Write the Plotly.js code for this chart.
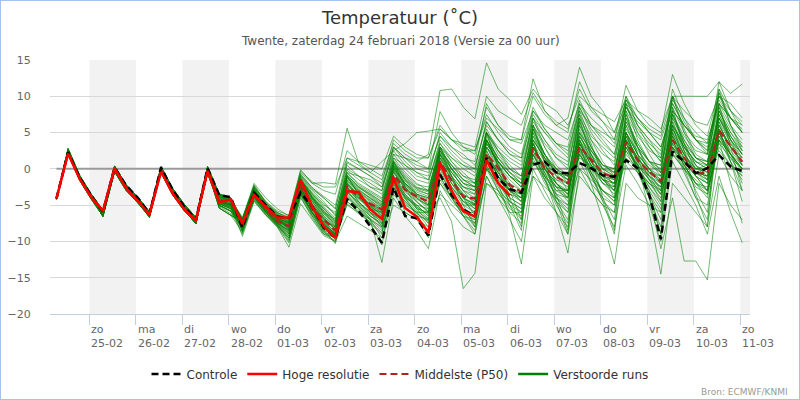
<!DOCTYPE html>
<html><head><meta charset="utf-8">
<script src="https://cdn.plot.ly/plotly-3.0.1.min.js"></script>
<style>
html,body{margin:0;padding:0;background:#fff;}
#wrap{position:relative;width:800px;height:400px;}
#chart{width:800px;height:400px;}
#frame{position:absolute;left:0;top:0;width:798px;height:398px;border:1px solid #a4c2ee;pointer-events:none;}
</style></head><body>
<div id="wrap"><div id="chart"></div><div id="frame"></div></div>
<script>
const times = [
'2018-02-24 07:00','2018-02-24 13:00','2018-02-24 19:00',
'2018-02-25 01:00','2018-02-25 07:00','2018-02-25 13:00','2018-02-25 19:00',
'2018-02-26 01:00','2018-02-26 07:00','2018-02-26 13:00','2018-02-26 19:00',
'2018-02-27 01:00','2018-02-27 07:00','2018-02-27 13:00','2018-02-27 19:00',
'2018-02-28 01:00','2018-02-28 07:00','2018-02-28 13:00','2018-02-28 19:00',
'2018-03-01 01:00','2018-03-01 07:00','2018-03-01 13:00','2018-03-01 19:00',
'2018-03-02 01:00','2018-03-02 07:00','2018-03-02 13:00','2018-03-02 19:00',
'2018-03-03 01:00','2018-03-03 07:00','2018-03-03 13:00','2018-03-03 19:00',
'2018-03-04 01:00','2018-03-04 07:00','2018-03-04 13:00','2018-03-04 19:00',
'2018-03-05 01:00','2018-03-05 07:00','2018-03-05 13:00','2018-03-05 19:00',
'2018-03-06 01:00','2018-03-06 07:00','2018-03-06 13:00','2018-03-06 19:00',
'2018-03-07 01:00','2018-03-07 07:00','2018-03-07 13:00','2018-03-07 19:00',
'2018-03-08 01:00','2018-03-08 07:00','2018-03-08 13:00','2018-03-08 19:00',
'2018-03-09 01:00','2018-03-09 07:00','2018-03-09 13:00','2018-03-09 19:00',
'2018-03-10 01:00','2018-03-10 07:00','2018-03-10 13:00','2018-03-10 19:00',
'2018-03-11 01:00'];

const dayTicks = ['2018-02-25','2018-02-26','2018-02-27','2018-02-28','2018-03-01','2018-03-02','2018-03-03','2018-03-04','2018-03-05','2018-03-06','2018-03-07','2018-03-08','2018-03-09','2018-03-10','2018-03-11'];
const dayNames = ['zo','ma','di','wo','do','vr','za','zo','ma','di','wo','do','vr','za','zo'];
const dayDates = ['25-02','26-02','27-02','28-02','01-03','02-03','03-03','04-03','05-03','06-03','07-03','08-03','09-03','10-03','11-03'];
const shadedDays = ['2018-02-25','2018-02-27','2018-03-01','2018-03-03','2018-03-05','2018-03-07','2018-03-09','2018-03-11'];
const yTicks = [-20,-15,-10,-5,0,5,10,15];
const xRange = ['2018-02-24 03:40','2018-03-11 05:00'];

const controle = [-4.1,2.3,-1.2,-3.7, -5.9,0.2,-2.3,-4.0, -6.2,0.2,-2.9,-5.2, -7.0,0.1,-3.6,-3.9, -8.1,-3.3,-5.0,-6.6, -6.7,-3.3,-5.2,-8.1, -9.5,-4.2,-5.8,-7.9, -10.2,-2.6,-6.5,-6.8, -9.2,-0.8,-3.6,-5.6, -6.5,1.5,-1.3,-2.8, -3.3,0.6,1.0,-0.5, -0.6,0.8,0.1,-0.9, -1.1,1.2,0.1,-3.6, -9.7,2.4,1.0,-0.6, 0.1,1.9,0.3,-0.3];

const hogeResolutie = [-4.1,2.1,-1.4,-3.9, -5.8,0.1,-2.7,-4.4, -6.3,-0.4,-3.4,-5.6, -7.1,-0.3,-4.6,-4.2, -7.6,-3.6,-5.2,-6.7, -6.7,-1.5,-5.2,-7.9, -9.5,-3.1,-3.2,-5.6, -6.9,-1.3,-5.4,-6.6, -8.8,0.8,-3.0,-5.8, -6.6,1.2,-2.0,-3.7];

const middelste = [-4.1,2.2,-1.3,-3.8, -5.9,0.0,-2.6,-4.3, -6.2,-0.1,-3.2,-5.4, -7.0,-0.3,-4.3,-4.6, -7.3,-3.3,-5.5,-7.2, -7.9,-2.4,-5.5,-7.0, -8.5,-2.4,-3.8,-4.8, -5.6,-0.8,-2.9,-3.8, -4.5,1.0,-1.6,-3.8, -4.1,2.1,0.1,-2.2, -3.2,2.8,0.1,-1.1, -2.0,3.1,1.2,-0.6, -1.2,3.7,1.2,-0.4, -1.7,4.0,1.5,-0.6, -0.6,5.3,3.1,1.0];

const verstoordeRuns = [
[-4.1,2.4,-1.2,-3.8,-6.1,0.1,-2.5,-4.2,-6.2,0.0,-3.0,-5.3,-7.0,0.0,-4.0,-4.6, -8.0,-3.0,-5.0,-6.5, -7.0,-3.0,-5.5,-8.0, -9.8,-4.0,-5.5,-7.5, -10.5,-2.0,-6.0,-7.0, -9.5,-1.0,-4.0,-6.0, -7.0,1.0,-1.5,-3.0, -3.5,0.5,1.0,-0.5, -1.0,1.5,0.5,-1.0, -1.5,1.5,0.0,-3.0, -9.0,2.0,1.0,-0.5, 0.0,2.5,0.5,-0.5],
[-4.0,2.2,-1.5,-4.0,-6.3,-0.2,-2.8,-4.5,-6.4,-0.3,-3.4,-5.6,-7.3,-0.4,-4.6,-5.2, -7.2,-3.5,-5.6,-7.3, -8.0,-2.0,-4.5,-6.5, -8.0,-1.5,-3.0,-4.0, -5.0,0.5,-2.0,-3.5, -4.0,2.0,-0.5,-2.5, -3.5,3.5,1.0,-1.0, -2.5,4.0,1.5,0.0, -1.5,5.0,2.5,0.5, -0.5,6.0,3.0,1.0, -1.0,6.5,3.0,0.0, 0.5,7.0,4.0,2.0],
[-4.1,2.6,-1.0,-3.6,-5.8,0.3,-2.3,-4.0,-6.0,0.2,-2.8,-5.0,-6.8,0.2,-3.6,-4.2, -6.8,-2.0,-4.0,-5.5, -6.5,-0.1,-2.0,-1.9, -2.1,5.6,0.8,-0.5, 1.0,2.5,3.5,5.0, 5.2,5.5,4.0,3.5, 3.0,10.0,8.0,7.0, 6.0,10.5,8.0,6.5, 5.5,11.0,8.0,6.5, 5.0,9.0,7.0,5.5, 4.5,10.0,8.0,6.5, 6.0,10.0,9.0,7.0],
[-4.2,2.0,-1.6,-4.2,-6.5,-0.4,-3.0,-4.7,-6.6,-0.5,-3.6,-5.8,-7.5,-0.6,-5.0,-5.8, -7.5,-3.0,-5.0,-6.5, -8.5,-1.5,-3.5,-5.0, -6.0,-0.5,-1.0,-1.5, -2.5,2.0,1.5,1.0, 2.0,10.8,11.0,8.5, 6.9,14.6,11.0,9.5, 7.5,11.0,9.0,8.0, 6.0,10.0,8.5,7.5, 6.5,9.5,8.0,7.0, 5.5,10.0,10.0,10.0, 10.0,12.0,10.4,11.7],
[-4.1,2.3,-1.3,-3.9,-6.0,0.0,-2.6,-4.3,-6.3,-0.1,-3.2,-5.4,-7.1,-0.2,-4.3,-4.9, -8.5,-4.0,-6.0,-7.5, -9.0,-3.5,-6.0,-8.0, -9.0,-3.0,-5.0,-7.0, -8.5,-2.5,-4.5,-6.0, -6.0,-4.0,-7.3,-16.5, -14.4,-2.0,-3.0,-4.5, -6.0,3.0,0.0,-2.5, -4.0,4.5,2.0,-1.0, -3.0,5.0,2.0,0.0, -2.0,5.5,2.5,0.5, -1.0,6.0,3.0,1.5],
[-4.0,2.5,-1.1,-3.7,-5.9,0.2,-2.4,-4.1,-6.1,0.1,-2.9,-5.1,-6.9,0.1,-3.8,-4.4, -7.8,-3.2,-5.2,-6.8, -8.2,-2.8,-5.0,-7.2, -8.8,-2.0,-3.5,-5.0, -6.5,0.0,-2.5,-4.5, -6.0,2.5,-1.0,-4.0, -6.5,4.0,0.5,-3.0, -7.0,5.0,1.0,-3.5, -8.5,3.0,-1.0,-4.5, -9.0,4.0,0.0,-4.0, -11.0,-4.0,-12.7,-12.7, -15.3,-2.0,-5.0,-7.0],
[-4.1,2.1,-1.4,-4.1,-6.4,-0.3,-2.9,-4.6,-6.5,-0.4,-3.5,-5.7,-7.4,-0.5,-4.8,-5.5, -8.2,-3.8,-5.8,-7.6, -9.5,-3.0,-6.0,-8.5, -9.0,-2.5,-4.5,-6.5, -7.5,-1.0,-3.5,-5.5, -7.0,1.0,-3.0,-6.0, -8.0,2.0,-2.0,-6.5, -13.1,-1.0,-4.0,-6.0, -8.0,1.0,-2.0,-4.0, -5.0,2.0,0.0,-2.0, -4.0,3.0,1.0,-1.0, -3.0,4.0,2.0,0.0],
[-4.2,2.8,-0.9,-3.5,-5.7,0.4,-2.2,-3.9,-5.9,0.3,-2.7,-4.9,-6.7,0.3,-3.5,-4.0, -7.0,-2.8,-5.3,-6.9, -7.5,-1.5,-4.0,-6.0, -7.0,-1.0,-3.5,-5.0, -5.5,1.0,-1.5,-3.5, -5.0,3.0,0.0,-3.0, -5.0,5.0,1.0,-4.0, -8.0,4.0,-1.0,-6.0, -11.6,0.0,-3.0,-5.0, -6.0,3.0,0.0,-2.0, -3.0,6.0,3.0,1.0, 0.0,8.0,5.0,3.0],
[-4.1,2.2,-1.4,-4.0,-6.2,-0.1,-2.7,-4.4,-6.3,-0.2,-3.3,-5.5,-7.2,-0.3,-4.5,-5.0, -7.6,-3.6,-5.7,-7.2, -8.4,-2.6,-5.2,-7.4, -9.2,-3.0,-4.6,-6.0, -7.0,-1.5,-4.0,-5.0, -5.5,0.5,-2.5,-4.5, -5.0,2.5,-1.0,-3.0, -4.0,3.5,-0.5,-4.0, -6.0,2.5,-2.0,-7.0, -13.1,-2.0,-4.0,-5.0, -6.0,2.0,0.0,-2.0, -3.0,4.0,2.0,0.5],
[-4.0,2.4,-1.2,-3.8,-6.6,-0.2,-2.7,-4.5,-6.7,-0.1,-3.1,-5.6,-7.6,-0.2,-5.4,-6.4, -7.4,-3.4,-5.4,-7.0, -7.8,-2.2,-5.0,-7.0, -8.0,-2.0,-3.8,-5.0, -6.0,0.0,-2.0,-3.5, -4.0,3.0,0.0,-2.0, -2.5,5.0,2.0,0.0, -1.0,6.0,3.0,0.5, -1.0,7.0,3.5,-1.0, -4.0,5.0,1.0,-6.0, -14.5,-2.0,-4.0,-6.0, -8.0,2.0,-1.0,-3.0],
[-4.1,2.5,-1.1,-3.7,-6.0,0.2,-2.4,-4.1,-6.1,0.1,-2.9,-5.2,-6.9,0.1,-3.9,-4.5, -7.0,-2.5,-4.8,-6.2, -7.0,-1.0,-3.0,-4.5, -6.5,0.5,-1.0,-2.5, -3.0,3.0,1.0,-0.5, -1.0,5.0,3.0,1.5, 1.0,9.0,6.0,4.0, 4.0,12.4,8.0,6.0, 7.0,14.0,10.0,8.0, 5.0,10.0,7.0,5.0, 4.0,9.0,6.0,4.0, 3.0,9.5,7.0,5.0],
[-4.0,2.3,-1.4,-3.9,-6.2,-0.1,-2.7,-4.4,-6.3,-0.2,-3.3,-5.5,-7.2,-0.3,-4.5,-5.1, -7.3,-3.0,-5.0,-6.6, -7.6,-1.8,-4.0,-5.5, -7.0,-0.5,-2.0,-3.0, -4.0,2.0,0.0,-1.5, -2.0,4.0,2.0,0.5, 0.0,6.5,4.0,2.0, 1.5,8.0,5.5,3.5, 2.0,9.0,6.0,5.0, 4.0,11.5,8.0,6.0, 5.0,13.0,9.0,6.0, 4.5,11.0,8.0,6.5],
[-4.1,2.7,-1.0,-3.6,-5.8,0.3,-2.3,-4.0,-6.0,0.2,-2.8,-5.0,-6.8,0.2,-3.7,-4.3, -6.9,-2.2,-4.5,-6.0, -6.8,-0.5,-2.0,-3.0, -3.5,2.5,1.0,0.0, -1.0,3.5,2.0,1.0, 0.0,7.9,5.0,3.0, 2.0,8.5,6.0,4.5, 4.0,10.0,7.5,6.0, 5.0,12.0,8.5,6.5, 4.0,9.5,7.0,5.0, 3.0,8.0,6.0,4.0, 3.5,9.0,7.0,5.5],
[-4.2,2.1,-1.6,-4.2,-6.5,-0.4,-3.0,-4.7,-6.6,-0.5,-3.6,-5.8,-7.5,-0.6,-5.1,-5.9, -8.4,-3.9,-5.9,-7.7, -9.8,-3.2,-6.2,-8.4, -10.3,-3.5,-5.5,-7.0, -12.9,-4.0,-6.5,-8.5, -11.0,-3.0,-6.0,-8.0, -9.0,-1.0,-4.0,-6.0, -6.0,2.0,-1.0,-3.0, -3.0,4.0,1.0,-1.0, -2.0,5.0,2.0,0.0, -1.0,6.0,3.0,1.0, 0.0,7.0,4.0,2.0],
[-4.1,2.3,-1.3,-3.9,-6.1,0.0,-2.6,-4.3,-6.3,-0.1,-3.2,-5.4,-7.1,-0.1,-4.2,-4.8, -7.1,-2.6,-5.2,-6.9, -7.3,-1.2,-4.2,-6.2, -7.5,-0.8,-2.5,-3.5, -4.5,1.5,-0.5,-2.0, -3.0,3.5,1.0,-1.0, -2.0,5.5,2.5,0.0, -1.0,7.0,3.0,0.0, -2.0,8.0,4.0,1.0, -1.0,9.0,5.0,2.0, -0.5,10.0,5.5,2.0, 1.0,10.5,6.0,3.0],
[-4.0,2.5,-1.1,-3.7,-5.9,0.2,-2.4,-4.1,-6.1,0.1,-2.9,-5.1,-6.9,0.1,-3.9,-4.5, -7.7,-3.7,-5.6,-7.4, -8.6,-2.6,-5.6,-7.6, -9.0,-2.8,-4.2,-5.5, -6.8,-1.2,-3.6,-5.0, -6.5,-0.5,-3.5,-5.5, -7.5,0.5,-2.5,-5.0, -7.0,1.5,-2.0,-4.5, -6.0,2.0,-1.0,-3.0, -4.0,3.0,0.0,-2.5, -5.0,3.5,0.5,-2.0, -4.0,4.5,1.5,-1.0],
[-4.1,2.1,-1.4,-4.1,-6.4,-0.3,-2.9,-4.6,-6.5,-0.4,-3.5,-5.7,-7.4,-0.5,-4.7,-5.4, -7.9,-3.3,-5.2,-6.7, -7.2,-1.6,-3.8,-5.8, -7.8,-1.2,-2.8,-4.0, -5.2,0.8,-1.5,-2.8, -3.5,2.5,0.0,-2.0, -3.0,4.0,1.5,-0.5, -2.0,5.5,2.0,-0.5, -3.0,6.0,2.5,0.0, -2.5,7.0,3.0,-0.5, -3.0,7.5,3.5,0.5, -1.5,8.0,4.5,2.0],
[-4.2,2.8,-0.9,-3.5,-5.7,0.4,-2.2,-3.9,-5.9,0.3,-2.7,-4.9,-6.7,0.3,-3.4,-4.1, -8.8,-4.2,-6.2,-7.9, -10.0,-4.0,-6.5,-8.8, -9.5,-5.0,-6.0,-7.0, -8.0,-3.0,-5.0,-6.0, -7.5,-2.0,-4.5,-6.0, -6.0,0.0,-2.0,-4.0, -5.0,1.0,-1.5,-3.5, -4.0,2.0,-0.5,-3.0, -4.5,2.5,-0.5,-3.0, -5.5,3.0,0.0,-2.5, -3.5,4.0,1.0,-1.5],
[-4.1,2.2,-1.4,-4.0,-6.2,-0.1,-2.7,-4.4,-6.3,-0.2,-3.3,-5.5,-7.2,-0.3,-4.4,-4.9, -7.3,-2.9,-4.9,-6.4, -6.9,-0.9,-2.8,-4.0, -5.5,1.0,0.0,-1.0, -2.0,4.0,2.5,1.5, 1.5,6.0,4.0,2.5, 2.5,7.5,5.0,3.0, 2.0,8.5,5.5,3.5, 3.0,9.5,6.0,4.0, 2.0,8.0,5.0,3.0, 1.0,7.5,4.5,2.5, 2.0,8.5,5.5,3.5],
[-4.0,2.4,-1.2,-3.8,-6.5,-0.2,-2.7,-4.5,-6.6,-0.1,-3.1,-5.5,-7.5,-0.2,-5.2,-6.2, -7.5,-3.1,-5.4,-7.0, -8.3,-2.3,-5.2,-7.3, -8.6,-2.2,-3.9,-5.2, -6.2,-0.3,-2.8,-4.2, -5.0,1.5,-1.0,-3.0, -3.5,3.0,0.5,-1.5, -3.0,3.0,0.5,-1.5, -2.5,3.5,1.0,-0.5, -1.0,4.0,1.5,-0.5, -1.5,4.5,2.0,0.0, -0.5,5.5,3.0,1.0],
[-4.1,2.4,-1.3,-3.9,-6.1,0.0,-2.6,-4.3,-6.2,0.0,-3.1,-5.3,-7.0,-0.1,-4.1,-4.7, -7.0,-2.7,-5.5,-7.5, -8.8,-3.6,-6.5,-9.0, -9.5,-4.5,-6.0,-7.5, -9.0,-1.0,-4.0,-6.5, -8.5,0.0,-3.5,-6.5, -9.0,-1.0,-4.0,-7.0, -10.0,0.0,-3.0,-6.0, -9.0,-1.0,-3.0,-5.0, -8.0,0.5,-2.0,-5.0, -10.0,1.0,-2.0,-5.0, -9.0,-1.0,-6.0,-10.2],
[-4.0,2.2,-1.5,-4.0,-6.3,-0.2,-2.8,-4.5,-6.4,-0.3,-3.4,-5.6,-7.3,-0.4,-4.6,-5.3, -8.1,-4.1,-6.0,-7.8, -9.2,-3.4,-6.3,-8.6, -9.6,-3.8,-5.2,-6.5, -7.8,-2.0,-4.0,-5.5, -6.0,1.0,-2.0,-4.0, -5.5,2.0,-1.0,-3.5, -4.5,3.0,0.0,-2.0, -3.5,3.5,0.5,-1.5, -2.0,4.5,1.5,-1.0, -2.5,5.0,2.0,-0.5, -1.0,6.0,3.0,0.5],
[-4.1,2.6,-1.0,-3.6,-5.8,0.3,-2.3,-4.0,-6.0,0.2,-2.8,-5.0,-6.8,0.2,-3.6,-4.2, -6.7,-2.4,-4.6,-6.3, -7.4,-1.4,-3.4,-5.2, -6.8,-0.2,-1.5,-2.5, -3.5,1.5,0.5,-0.5, -1.5,3.0,1.5,0.5, -0.5,5.0,3.0,1.5, 0.5,6.5,4.0,2.0, 1.0,7.5,4.5,3.0, 1.5,8.5,5.5,3.5, 2.0,9.0,6.0,4.0, 2.5,10.0,7.0,5.0],
[-4.2,2.0,-1.6,-4.2,-6.5,-0.4,-3.0,-4.7,-6.6,-0.5,-3.6,-5.8,-7.5,-0.6,-5.0,-5.8, -7.9,-3.4,-5.3,-7.1, -8.1,-2.1,-4.9,-6.9, -8.3,-1.8,-3.3,-4.6, -5.8,0.3,-2.3,-3.8, -4.8,1.8,-1.2,-3.5, -4.5,2.5,-0.5,-3.0, -4.0,3.5,0.0,-2.5, -3.0,4.0,0.5,-2.0, -2.5,4.5,1.0,-1.5, -3.0,4.0,0.5,-2.0, -2.5,5.0,2.0,-0.5],
[-4.1,2.3,-1.3,-3.9,-6.0,0.0,-2.6,-4.3,-6.3,-0.1,-3.2,-5.4,-7.1,-0.2,-4.4,-5.0, -9.3,-4.5,-6.4,-8.0, -10.8,-4.8,-7.0,-9.2, -10.0,-6.5,-7.5,-8.5, -9.5,-5.0,-6.0,-7.0, -8.0,-3.5,-5.0,-6.5, -7.0,-2.0,-3.5,-5.0, -6.0,-1.0,-2.5,-4.0, -5.0,0.0,-1.5,-3.0, -4.0,1.0,-0.5,-2.0, -3.5,2.0,0.0,-1.5, -3.0,3.0,0.5,-1.0],
[-4.0,2.5,-1.1,-3.7,-5.9,0.2,-2.4,-4.1,-6.1,0.1,-2.9,-5.1,-6.9,0.1,-3.8,-4.4, -7.2,-2.3,-4.7,-6.1, -6.6,-0.7,-2.6,-3.8, -5.0,1.5,0.5,-0.5, -1.5,3.0,1.5,0.5, 0.0,4.5,3.0,2.0, 0.5,6.0,4.0,2.5, 1.5,7.0,5.0,3.5, 2.5,8.0,6.0,4.5, 3.0,8.5,6.0,4.0, 2.5,9.5,7.0,5.0, 3.5,10.0,8.0,6.0],
[-4.1,2.1,-1.4,-4.1,-6.4,-0.3,-2.9,-4.6,-6.5,-0.4,-3.5,-5.7,-7.4,-0.5,-4.8,-5.5, -7.6,-3.2,-5.1,-6.8, -7.9,-1.9,-4.4,-6.6, -8.5,-2.6,-4.0,-5.5, -6.0,-0.5,-2.5,-4.0, -5.5,0.5,-2.0,-4.5, -6.0,2.0,-1.0,-4.0, -5.0,3.5,0.0,-3.0, -4.0,5.0,1.0,-2.0, -3.5,6.0,2.0,-1.5, -4.5,6.5,2.5,-1.0, -3.0,7.0,3.5,0.5],
[-4.2,2.7,-0.9,-3.5,-5.7,0.4,-2.2,-3.9,-5.9,0.3,-2.7,-4.9,-6.7,0.3,-3.5,-4.0, -8.3,-3.5,-5.5,-7.3, -8.9,-2.9,-5.5,-7.7, -9.1,-2.7,-4.0,-5.2, -6.6,-1.0,-3.0,-4.6, -5.8,1.2,-1.5,-4.0, -4.8,3.0,0.0,-2.5, -3.5,4.5,1.0,-2.0, -3.5,5.5,2.0,-1.0, -2.0,6.5,3.0,0.0, -2.0,7.0,3.5,0.5, -0.5,7.5,4.0,1.5],
[-4.1,2.2,-1.4,-4.0,-6.2,-0.1,-2.7,-4.4,-6.3,-0.2,-3.3,-5.5,-7.2,-0.3,-4.5,-5.0, -7.0,-3.0,-5.7,-7.2, -7.7,-2.5,-5.4,-7.8, -8.8,-3.2,-4.8,-6.2, -7.2,-2.2,-4.2,-5.8, -7.0,-1.5,-4.0,-6.5, -7.5,0.0,-3.0,-5.5, -6.5,2.0,-1.5,-4.5, -7.0,3.0,-1.0,-4.0, -7.0,4.0,-0.5,-4.0, -8.0,5.0,0.0,-4.0, -7.0,5.5,1.0,-3.0],
[-4.0,2.4,-1.2,-3.8,-6.6,-0.2,-2.7,-4.5,-6.7,-0.1,-3.1,-5.6,-7.6,-0.2,-5.4,-6.4, -7.4,-3.0,-4.9,-6.3, -7.1,-1.3,-3.6,-5.4, -7.2,-0.6,-2.2,-3.2, -4.2,1.2,-0.8,-2.2, -2.5,2.5,0.5,-1.0, -1.5,4.0,1.5,0.0, -1.5,4.5,2.0,0.0, -1.0,5.0,2.5,0.5, 0.0,5.5,3.0,1.0, 0.5,6.0,3.5,1.5, 1.0,7.0,4.5,2.5],
[-4.1,2.4,-1.2,-3.8,-6.2,0.1,-2.5,-4.2,-6.3,0.0,-3.0,-5.3,-7.1,0.0,-4.1,-4.7, -8.0,-3.6,-5.8,-7.5, -8.5,-2.0,-5.0,-7.5, -9.0,-1.0,-3.5,-6.0, -8.0,1.0,-2.5,-5.5, -7.5,3.0,-1.0,-5.0, -8.0,5.0,0.0,-5.0, -8.5,6.0,1.0,-4.5, -9.0,7.0,1.5,-4.0, -8.5,8.0,2.0,-4.0, -9.0,8.5,2.5,-3.5, -8.0,9.0,3.0,-3.0],
[-4.0,2.2,-1.5,-4.0,-6.3,-0.2,-2.8,-4.5,-6.4,-0.3,-3.4,-5.6,-7.3,-0.4,-4.6,-5.2, -7.3,-2.8,-5.0,-6.6, -7.6,-1.7,-4.2,-6.4, -8.0,-1.5,-3.2,-4.4, -5.6,0.2,-2.0,-3.2, -3.8,2.0,0.0,-1.5, -2.5,3.0,1.0,-0.5, -2.0,4.0,1.5,-0.5, -1.5,4.5,1.5,0.0, -0.5,5.0,2.0,0.0, -1.5,5.5,2.0,-0.5, -1.0,6.0,3.0,1.0],
[-4.1,2.6,-1.0,-3.6,-5.8,0.3,-2.3,-4.0,-6.0,0.2,-2.8,-5.0,-6.8,0.2,-3.6,-4.2, -7.8,-3.4,-5.4,-7.0, -8.2,-2.4,-5.3,-7.4, -8.7,-2.4,-3.7,-5.0, -6.4,-0.5,-2.8,-4.0, -5.0,2.0,-1.0,-3.0, -4.0,4.0,0.5,-2.0, -3.0,6.0,2.0,-1.0, -2.0,7.5,3.0,0.0, -1.0,9.0,4.0,1.0, -0.5,10.0,5.0,1.5, 0.5,11.0,6.0,2.5],
[-4.2,2.0,-1.6,-4.2,-6.5,-0.4,-3.0,-4.7,-6.6,-0.5,-3.6,-5.8,-7.5,-0.6,-5.0,-5.8, -9.0,-4.3,-6.3,-7.8, -9.5,-3.5,-6.0,-8.0, -9.0,-2.5,-4.5,-6.0, -7.0,-1.5,-3.5,-5.0, -6.5,0.0,-2.5,-5.0, -6.0,1.5,-1.5,-4.5, -5.5,2.5,-0.5,-4.0, -5.5,3.0,0.0,-3.5, -5.0,3.5,0.0,-3.5, -6.0,3.0,-0.5,-4.0, -5.0,4.0,-2.0,-7.5],
[-4.1,2.3,-1.3,-3.9,-6.0,0.0,-2.6,-4.3,-6.3,-0.1,-3.2,-5.4,-7.1,-0.2,-4.3,-4.9, -7.2,-3.8,-5.9,-7.6, -9.0,-3.0,-6.0,-8.2, -9.2,-4.5,-5.8,-7.0, -9.5,-3.5,-5.5,-6.5, -7.0,-2.0,-4.0,-5.0, -5.0,0.0,-2.0,-3.5, -4.0,1.0,-1.0,-2.5, -3.0,2.0,0.0,-1.5, -2.5,2.5,0.5,-1.0, -2.0,3.0,1.0,-0.5, -1.5,3.5,1.5,0.0],
[-4.0,2.5,-1.1,-3.7,-5.9,0.2,-2.4,-4.1,-6.1,0.1,-2.9,-5.1,-6.9,0.1,-3.8,-4.4, -7.7,-3.5,-5.5,-7.1, -7.5,-1.6,-4.0,-6.0, -7.6,-1.0,-2.5,-3.8, -5.0,1.0,-1.0,-2.5, -3.0,3.0,1.0,-0.5, -2.0,5.0,2.5,0.5, -1.0,7.0,4.0,1.5, 0.0,8.5,5.0,2.5, 0.5,10.0,6.0,3.0, 1.0,11.0,7.0,4.0, 2.0,12.0,8.0,5.0],
[-4.1,2.1,-1.4,-4.1,-6.4,-0.3,-2.9,-4.6,-6.5,-0.4,-3.5,-5.7,-7.4,-0.5,-4.8,-5.5, -8.6,-4.0,-6.0,-7.7, -9.3,-3.1,-5.9,-8.3, -9.4,-3.2,-4.6,-6.0, -7.4,-1.6,-3.8,-5.2, -6.8,0.5,-2.5,-4.5, -5.5,1.5,-1.0,-3.0, -4.5,2.0,-0.5,-2.5, -4.5,2.5,0.0,-2.0, -3.0,3.0,0.5,-1.5, -3.5,3.5,1.0,-1.0, -2.0,4.5,2.0,0.0],
[-4.2,2.8,-0.9,-3.5,-5.7,0.4,-2.2,-3.9,-5.9,0.3,-2.7,-4.9,-6.7,0.3,-3.5,-4.0, -7.4,-3.3,-5.3,-6.9, -8.0,-2.2,-4.8,-7.0, -8.2,-2.0,-3.6,-4.8, -5.9,0.0,-2.2,-3.7, -4.5,1.5,-0.5,-2.5, -3.0,3.0,1.0,-1.0, -2.5,3.5,1.0,-1.0, -2.0,4.0,1.5,-0.5, -1.5,4.5,1.5,-0.5, -1.0,5.0,2.0,0.0, 0.0,5.5,3.0,1.0],
[-4.1,2.2,-1.4,-4.0,-6.2,-0.1,-2.7,-4.4,-6.3,-0.2,-3.3,-5.5,-7.2,-0.3,-4.5,-5.0, -6.9,-2.5,-4.5,-5.8, -6.4,-0.3,-1.8,-2.5, -2.5,1.5,1.0,0.5, 0.0,4.5,3.0,2.0, 1.5,5.5,4.0,3.0, 2.5,7.0,5.5,4.0, 3.5,8.0,6.0,5.0, 4.0,9.0,7.0,5.5, 3.5,8.5,6.5,5.0, 3.0,8.0,6.0,4.5, 4.0,9.0,7.0,6.0],
[-4.0,2.4,-1.2,-3.8,-6.6,-0.2,-2.7,-4.5,-6.7,-0.1,-3.1,-5.6,-7.6,-0.2,-5.4,-6.4, -8.7,-4.4,-6.3,-8.0, -10.2,-3.8,-6.8,-9.0, -9.9,-4.8,-6.2,-7.3, -8.8,-2.5,-4.5,-6.0, -8.0,-1.0,-4.0,-6.5, -8.5,0.5,-3.0,-6.0, -7.5,2.5,-1.5,-5.0, -7.5,4.0,-0.5,-4.5, -6.0,5.0,0.5,-3.5, -7.0,6.0,1.0,-3.0, -6.0,6.5,2.0,-2.0],
[-4.1,2.5,-1.2,-3.8,-6.0,0.1,-2.5,-4.2,-6.2,0.1,-3.0,-5.3,-7.0,0.0,-4.0,-4.6, -7.5,-3.2,-5.1,-6.5, -7.3,-1.4,-3.9,-5.8, -7.4,-1.2,-2.6,-3.6, -4.8,0.6,-1.4,-2.7, -3.2,2.8,0.5,-1.5, -2.0,4.5,1.5,-0.5, -1.5,5.0,2.0,0.0, -1.0,6.0,3.0,0.5, -0.5,6.5,3.5,1.0, 0.0,7.0,4.0,1.5, 0.5,7.5,4.5,2.0],
[-4.0,2.2,-1.5,-4.0,-6.3,-0.2,-2.8,-4.5,-6.4,-0.3,-3.4,-5.6,-7.3,-0.4,-4.7,-5.3, -8.2,-3.7,-5.7,-7.3, -8.7,-2.7,-5.4,-7.6, -8.9,-2.6,-4.1,-5.3, -6.9,-1.1,-3.2,-4.5, -6.0,0.5,-2.0,-4.0, -5.0,2.0,-0.5,-3.0, -4.5,3.0,0.0,-2.0, -3.5,3.5,0.5,-1.5, -3.0,3.5,0.5,-1.5, -2.5,4.0,1.0,-1.0, -2.0,5.0,2.0,0.0],
[-4.1,2.6,-1.0,-3.6,-5.8,0.3,-2.3,-4.0,-6.0,0.2,-2.8,-5.0,-6.8,0.2,-3.6,-4.2, -7.1,-2.7,-4.8,-6.0, -6.9,-1.1,-3.3,-4.8, -6.3,0.0,-1.0,-2.0, -3.0,2.5,0.5,-1.0, -1.5,3.5,1.5,0.0, -1.0,5.0,2.5,1.0, 0.0,6.0,3.5,1.5, 0.5,7.0,4.0,2.0, 1.0,7.5,4.5,2.5, 1.5,8.5,5.0,3.0, 2.0,9.0,6.0,4.0],
[-4.2,2.0,-1.6,-4.2,-6.5,-0.4,-3.0,-4.7,-6.6,-0.5,-3.6,-5.8,-7.5,-0.6,-5.0,-5.8, -7.9,-3.9,-6.1,-7.9, -9.6,-3.3,-6.1,-8.7, -10.1,-3.9,-5.4,-6.8, -8.2,-2.7,-4.7,-6.2, -7.2,-0.5,-3.5,-5.5, -6.5,1.0,-2.0,-4.5, -5.5,2.0,-1.0,-3.5, -5.0,3.0,-0.5,-3.0, -4.5,3.5,0.0,-2.5, -4.5,4.0,0.5,-2.0, -3.5,5.0,1.0,-4.5],
[-4.1,2.3,-1.3,-3.9,-6.0,0.0,-2.6,-4.3,-6.3,-0.1,-3.2,-5.4,-7.1,-0.2,-4.3,-4.9, -7.6,-3.1,-5.0,-6.7, -7.7,-1.8,-4.1,-6.1, -7.9,-1.3,-2.9,-4.1, -5.3,0.5,-1.7,-3.0, -3.5,2.2,0.0,-2.0, -2.5,3.5,1.0,-1.0, -2.0,4.0,1.5,-0.5, -1.5,4.5,2.0,0.0, -1.0,5.0,2.5,0.5, -0.5,5.5,3.0,1.0, 0.5,6.5,3.5,1.5],
[-4.0,2.5,-1.1,-3.7,-5.9,0.2,-2.4,-4.1,-6.1,0.1,-2.9,-5.1,-6.9,0.1,-3.8,-4.4, -8.0,-3.0,-5.2,-6.8, -7.4,-0.8,-2.6,-4.0, -5.5,0.8,0.0,-1.0, -2.5,3.0,1.5,0.0, -0.5,4.5,2.5,1.0, 0.0,6.5,4.0,2.0, 1.0,7.5,5.0,3.0, 1.5,8.5,5.5,3.5, 2.0,9.5,6.0,4.0, 1.5,10.0,6.5,4.0, 2.5,10.5,7.0,5.0],
[-4.1,2.1,-1.4,-4.1,-6.4,-0.3,-2.9,-4.6,-6.5,-0.4,-3.5,-5.7,-7.4,-0.5,-4.8,-5.5, -7.3,-3.6,-5.8,-7.5, -8.4,-2.8,-5.7,-8.0, -9.3,-3.4,-5.0,-6.5, -7.6,-1.8,-3.8,-5.3, -6.2,1.5,-1.5,-4.0, -5.0,4.0,0.5,-2.5, -4.0,5.5,1.5,-2.0, -4.0,6.5,2.0,-1.5, -3.0,7.5,3.0,-1.0, -3.5,8.0,3.5,-0.5, -2.0,8.5,4.0,0.5],
[-4.2,2.8,-0.9,-3.5,-5.7,0.4,-2.2,-3.9,-5.9,0.3,-2.7,-4.9,-6.7,0.3,-3.5,-4.0, -7.0,-2.9,-5.0,-6.4, -7.2,-1.5,-3.8,-5.6, -7.3,-0.9,-2.4,-3.4, -4.6,0.9,-1.2,-2.6, -3.0,2.5,0.5,-1.5, -2.5,3.5,1.0,-1.0, -2.5,3.0,0.5,-1.5, -2.0,3.5,1.0,-1.0, -1.5,4.0,1.5,-0.5, -2.0,4.5,1.5,-0.5, -1.0,5.0,2.5,0.5],
[-4.1,2.2,-1.4,-4.0,-6.2,-0.1,-2.7,-4.4,-6.3,-0.2,-3.3,-5.5,-7.2,-0.3,-4.5,-5.0, -8.5,-3.8,-5.7,-7.4, -8.0,-2.0,-4.5,-6.8, -8.1,-1.7,-3.1,-4.3, -5.5,0.4,-2.1,-3.5, -4.2,2.0,-0.5,-2.5, -3.0,4.0,1.0,-1.0, -2.0,5.5,2.0,-0.5, -1.0,6.5,3.0,0.5, 0.0,7.0,3.5,1.0, 0.5,7.5,4.0,1.5, 1.0,8.0,5.0,2.5],
[-4.0,2.4,-1.2,-3.8,-6.6,-0.2,-2.7,-4.5,-6.7,-0.1,-3.1,-5.6,-7.6,-0.2,-5.4,-6.4, -7.1,-2.9,-5.3,-7.0, -7.9,-2.1,-4.8,-6.8, -8.4,-2.1,-3.6,-4.9, -6.1,-0.2,-2.6,-4.0, -5.2,1.0,-1.5,-3.5, -4.5,2.0,-0.5,-2.5, -3.5,3.0,0.0,-2.0, -3.0,3.5,0.5,-1.5, -2.0,4.0,1.0,-1.0, -2.5,4.5,1.5,-0.5, -1.5,5.0,2.0,0.0]
];

const legendNames = ['Controle','Hoge resolutie','Middelste (P50)','Verstoorde runs'];

const traces = [];
verstoordeRuns.forEach(function(run){
  traces.push({x: times, y: run, type:'scatter', mode:'lines',
    line:{color:'#008000', width:1}, opacity:0.55, showlegend:false, hoverinfo:'skip'});
});
// legend entry for the perturbed runs (no drawn points)
traces.push({x: times, y: times.map(function(){ return null; }), type:'scatter', mode:'lines',
  name: legendNames[3], line:{color:'#008000', width:2.5}, legendrank:4, hoverinfo:'skip'});
traces.push({x: times, y: middelste, type:'scatter', mode:'lines', name: legendNames[2],
  line:{color:'#b22222', width:2.2, dash:'7px,4px'}, legendrank:3});
traces.push({x: times, y: controle, type:'scatter', mode:'lines', name: legendNames[0],
  line:{color:'#000000', width:2.5, dash:'7px,4px'}, legendrank:1});
traces.push({x: times.slice(0, hogeResolutie.length), y: hogeResolutie, type:'scatter', mode:'lines', name: legendNames[1],
  line:{color:'#ff0000', width:2.5}, legendrank:2});

const shapes = [];
shadedDays.forEach(function(d){
  const idx = dayTicks.indexOf(d);
  const end = idx + 1 < dayTicks.length ? dayTicks[idx+1] : xRange[1];
  shapes.push({type:'rect', xref:'x', yref:'paper', x0:d, x1:end, y0:0, y1:1,
    fillcolor:'#f2f2f2', line:{width:0}, layer:'below'});
});
shapes.push({type:'line', xref:'x', yref:'y', x0:times[0], x1:xRange[1], y0:0, y1:0,
  line:{color:'#9a9a9a', width:2}, layer:'between'});

const annotations = [];
annotations.push({text:'Twente, zaterdag 24 februari 2018 (Versie za 00 uur)', xref:'paper', yref:'paper',
  x:0.5, y:(314-41)/254, xanchor:'center', yanchor:'middle', showarrow:false,
  font:{size:12, color:'#555'}});
annotations.push({text:'Bron: ECMWF/KNMI', xref:'paper', yref:'paper',
  x:(790-50)/700, y:(314-392)/254, xanchor:'right', yanchor:'middle', showarrow:false,
  font:{size:9, color:'#999'}});
dayTicks.forEach(function(d, i){
  annotations.push({text: dayNames[i] + '<br>' + dayDates[i], xref:'x', yref:'paper',
    x:d, y:(314-321)/254, xanchor:'left', yanchor:'top', align:'left', showarrow:false,
    font:{size:11, color:'#666'}});
});

const layout = {
  width:800, height:400,
  margin:{l:50, r:50, t:60, b:86},
  paper_bgcolor:'#ffffff', plot_bgcolor:'rgba(0,0,0,0)',
  font:{family:'DejaVu Sans, sans-serif', color:'#666', size:11},
  title:{text:'Temperatuur (˚C)', font:{size:18, color:'#333'}, x:0.5, xanchor:'center',
    xref:'paper', y:1-18/400, yanchor:'middle', yref:'container'},
  xaxis:{type:'date', range:xRange, tickmode:'array', tickvals:dayTicks, ticks:'outside', ticklen:10,
    tickcolor:'#c0d0e0', tickwidth:1, showticklabels:false, showgrid:false, showline:true,
    linecolor:'#c0d0e0', linewidth:1, zeroline:false, fixedrange:true},
  yaxis:{range:[-20,15], tickmode:'array', tickvals:yTicks, showgrid:true, gridcolor:'#d8d8d8',
    gridwidth:1, zeroline:false, ticks:'outside', ticklen:16, tickcolor:'rgba(0,0,0,0)', showline:false,
    tickfont:{size:11, color:'#666'}, fixedrange:true},
  yaxis2:{range:[-20,15], tickmode:'array', tickvals:yTicks, overlaying:'y', side:'right', anchor:'x',
    showgrid:false, zeroline:false, ticks:'outside', ticklen:12, tickcolor:'rgba(0,0,0,0)', showline:false,
    tickfont:{size:11, color:'#666'}, fixedrange:true},
  showlegend:true,
  legend:{orientation:'h', x:0.5, xanchor:'center', y:(314-374)/254, yanchor:'middle',
    font:{size:12, color:'#333'}, bgcolor:'rgba(0,0,0,0)'},
  shapes:shapes,
  annotations:annotations
};

Plotly.newPlot('chart', traces, layout, {displayModeBar:false, staticPlot:true});
</script>
</body></html>
